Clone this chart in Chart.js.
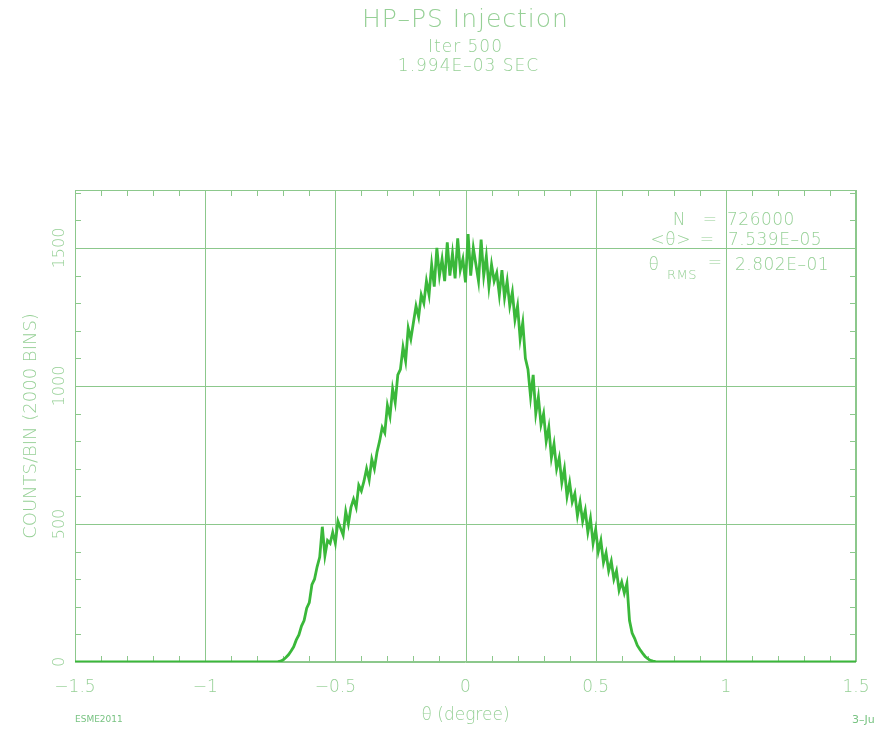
<!DOCTYPE html>
<html>
<head>
<meta charset="utf-8">
<script src="https://cdn.jsdelivr.net/npm/chart.js@4"></script>
<style>
  body { margin: 0; background: #fff; }
  canvas { display: block; }
</style>
</head>
<body>
<canvas id="chart" width="881" height="729"></canvas>
<script>
// bin positions (degree)
const theta = [-1.5,
  -0.75, -0.74, -0.73, -0.72, -0.71, -0.70, -0.69, -0.68, -0.67, -0.66,
  -0.65, -0.64, -0.63, -0.62, -0.61, -0.60, -0.59, -0.58, -0.57, -0.56,
  -0.55, -0.54, -0.53, -0.52, -0.51, -0.50, -0.49, -0.48, -0.47, -0.46,
  -0.45, -0.44, -0.43, -0.42, -0.41, -0.40, -0.39, -0.38, -0.37, -0.36,
  -0.35, -0.34, -0.33, -0.32, -0.31, -0.30, -0.29, -0.28, -0.27, -0.26,
  -0.25, -0.24, -0.23, -0.22, -0.21, -0.20, -0.19, -0.18, -0.17, -0.16,
  -0.15, -0.14, -0.13, -0.12, -0.11, -0.10, -0.09, -0.08, -0.07, -0.06,
  -0.05, -0.04, -0.03, -0.02, -0.01, 0.00, 0.01, 0.02, 0.03, 0.04,
  0.05, 0.06, 0.07, 0.08, 0.09, 0.10, 0.11, 0.12, 0.13, 0.14,
  0.15, 0.16, 0.17, 0.18, 0.19, 0.20, 0.21, 0.22, 0.23, 0.24,
  0.25, 0.26, 0.27, 0.28, 0.29, 0.30, 0.31, 0.32, 0.33, 0.34,
  0.35, 0.36, 0.37, 0.38, 0.39, 0.40, 0.41, 0.42, 0.43, 0.44,
  0.45, 0.46, 0.47, 0.48, 0.49, 0.50, 0.51, 0.52, 0.53, 0.54,
  0.55, 0.56, 0.57, 0.58, 0.59, 0.60, 0.61, 0.62, 0.63, 0.64,
  0.65, 0.66, 0.67, 0.68, 0.69, 0.70, 0.71, 0.72, 0.73, 0.74,
  0.75, 1.5];

// counts per bin
const counts = [0,
  0, 0, 0, 1, 3, 8, 16, 26, 40, 55,
  80, 98, 130, 150, 195, 215, 280, 300, 345, 380,
  490, 385, 440, 430, 470, 430, 510, 485, 460, 545,
  500, 560, 590, 560, 640, 620, 655, 700, 660, 735,
  700, 760, 800, 850, 830, 930, 890, 990, 940, 1040,
  1060, 1140, 1090, 1210, 1170, 1230, 1290, 1250, 1330, 1300,
  1380, 1330, 1440, 1360, 1500, 1400, 1460, 1380, 1520, 1400,
  1480, 1390, 1535, 1420, 1460, 1375, 1550, 1400, 1500, 1440,
  1380, 1530, 1400, 1470, 1360, 1440, 1380, 1410, 1330, 1420,
  1320, 1380, 1290, 1340, 1240, 1290, 1170, 1230, 1100, 1060,
  960, 1040, 900, 960, 860, 900, 800, 850, 740, 790,
  700, 740, 650, 700, 600, 650, 580, 610, 530, 580,
  510, 550, 470, 520, 430, 480, 400, 440, 360, 395,
  330, 365, 300, 330, 260, 290, 250, 285, 150, 105,
  85, 60, 45, 32, 20, 12, 6, 3, 1, 0,
  0, 0];

// labelled tick values
const xMajor = [-1.5, -1, -0.5, 0, 0.5, 1, 1.5];
const yMajor = [0, 500, 1000, 1500];

const CURVE = 'rgb(58,184,58)';
const GRID = 'rgb(140,200,140)';
const TEXT = 'rgb(150,208,150)';
const FONT = "'DejaVu Sans', sans-serif";

// frame, major grid and inward minor ticks
const frame = {
  id: 'frame',
  beforeDatasetsDraw(chart) {
    const {ctx, chartArea: a, scales: {x, y}} = chart;
    ctx.save();
    ctx.strokeStyle = GRID;
    ctx.lineWidth = 1;
    ctx.strokeRect(a.left + 0.5, a.top + 0.5, a.right - a.left - 1, a.bottom - a.top - 1);
    ctx.beginPath();
    xMajor.forEach(v => {
      const px = Math.round(x.getPixelForValue(v)) + 0.5;
      ctx.moveTo(px, a.top); ctx.lineTo(px, a.bottom);
    });
    yMajor.forEach(v => {
      const py = Math.round(y.getPixelForValue(v)) + 0.5;
      ctx.moveTo(a.left, py); ctx.lineTo(a.right, py);
    });
    for (let i = -15; i <= 15; i++) {
      const px = Math.round(x.getPixelForValue(i / 10)) + 0.5;
      ctx.moveTo(px, a.bottom); ctx.lineTo(px, a.bottom - 6);
      ctx.moveTo(px, a.top); ctx.lineTo(px, a.top + 6);
    }
    for (let v = 0; v <= 1700; v += 100) {
      const py = Math.round(y.getPixelForValue(v)) + 0.5;
      ctx.moveTo(a.left, py); ctx.lineTo(a.left + 6, py);
      ctx.moveTo(a.right, py); ctx.lineTo(a.right - 6, py);
    }
    ctx.stroke();
    ctx.restore();
  }
};

// titles, statistics box and footer
const texts = {
  id: 'texts',
  afterDraw(chart) {
    const {ctx, chartArea: a} = chart;
    const cx = (a.left + a.right) / 2;
    ctx.save();
    ctx.fillStyle = TEXT;
    ctx.textBaseline = 'middle';
    ctx.textAlign = 'center';
    ctx.letterSpacing = '1px';
    ctx.font = `200 25px ${FONT}`;
    ctx.fillText('HP\u2013PS Injection', cx, 20);
    ctx.font = `200 17px ${FONT}`;
    ctx.fillText('Iter 500', cx, 48);
    ctx.fillText('1.994E\u201303 SEC', cx + 3, 67);

    ctx.letterSpacing = '0.5px';
    ctx.font = `200 17px ${FONT}`;
    ctx.textAlign = 'right';
    ctx.fillText('N', 686, 221);
    ctx.fillText('<\u03b8>', 691, 241);
    ctx.textAlign = 'center';
    ctx.fillText('=', 710, 221);
    ctx.fillText('=', 707, 241);
    ctx.fillText('=', 715, 264);
    ctx.fillText('\u03b8', 654, 266);
    ctx.textAlign = 'left';
    ctx.fillText('726000', 727, 221);
    ctx.fillText('7.539E\u201305', 728, 241);
    ctx.fillText('2.802E\u201301', 735, 266);
    ctx.font = `200 13px ${FONT}`;
    ctx.fillText('RMS', 667, 276);

    ctx.letterSpacing = '0px';
    ctx.fillStyle = 'rgb(120,195,130)';
    ctx.font = `9px ${FONT}`;
    ctx.fillText('ESME2011', 75, 720);
    ctx.font = `11px ${FONT}`;
    ctx.fillText('3\u2013Ju', 852, 720);
    ctx.restore();
  }
};

new Chart(document.getElementById('chart'), {
  type: 'line',
  data: {
    datasets: [{
      data: theta.map((t, i) => ({x: t, y: counts[i]})),
      borderColor: CURVE,
      borderWidth: 2.8,
      pointRadius: 0,
      tension: 0,
      fill: false
    }]
  },
  options: {
    responsive: false,
    animation: false,
    events: [],
    layout: {padding: {top: 190, right: 25, left: 0, bottom: 0}},
    plugins: {legend: {display: false}, tooltip: {enabled: false}},
    scales: {
      x: {
        type: 'linear',
        min: -1.5,
        max: 1.5,
        afterBuildTicks: s => { s.ticks = xMajor.map(v => ({value: v})); },
        afterFit: s => { s.height = 67; },
        ticks: {
          autoSkip: false,
          maxRotation: 0,
          padding: 7,
          color: TEXT,
          font: {family: FONT, size: 17, weight: 200},
          callback: v => (v < 0 ? '\u2212' : '') + Math.abs(v)
        },
        grid: {display: false},
        border: {display: false},
        title: {
          display: true,
          text: '\u03b8 (degree)',
          color: TEXT,
          font: {family: FONT, size: 17, weight: 200},
          padding: {top: 0, bottom: 3}
        }
      },
      y: {
        min: 0,
        max: 1710,
        afterBuildTicks: s => { s.ticks = yMajor.map(v => ({value: v})); },
        afterFit: s => { s.width = 75; },
        ticks: {
          autoSkip: false,
          minRotation: 90,
          maxRotation: 90,
          crossAlign: 'center',
          padding: -13,
          color: TEXT,
          font: {family: FONT, size: 16, weight: 200},
          callback: v => String(v)
        },
        grid: {display: false},
        border: {display: false},
        title: {
          display: true,
          text: 'COUNTS/BIN (2000 BINS)',
          color: TEXT,
          font: {family: FONT, size: 18, weight: 200},
          padding: {top: 21, bottom: 0}
        }
      }
    }
  },
  plugins: [frame, texts]
});
</script>
</body>
</html>
